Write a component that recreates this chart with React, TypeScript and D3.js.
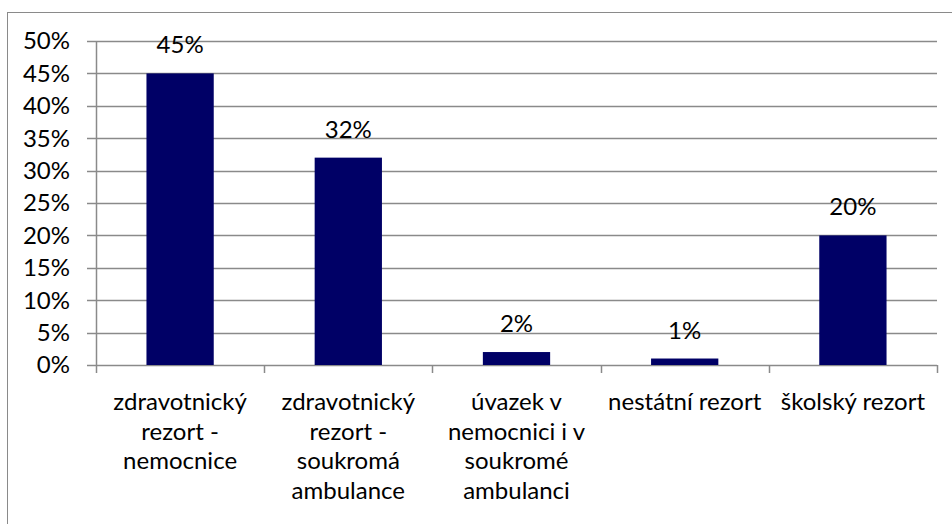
import React from "react";
import * as d3 from "d3";

const categories = [
  "zdravotnický rezort - nemocnice",
  "zdravotnický rezort - soukromá ambulance",
  "úvazek v nemocnici i v soukromé ambulanci",
  "nestátní rezort",
  "školský rezort",
];
const categoryLines = [
  ["zdravotnický", "rezort -", "nemocnice"],
  ["zdravotnický", "rezort -", "soukromá", "ambulance"],
  ["úvazek v", "nemocnici i v", "soukromé", "ambulanci"],
  ["nestátní rezort"],
  ["školský rezort"],
];
const values = [0.45, 0.32, 0.02, 0.01, 0.2];
const valueLabels = ["45%", "32%", "2%", "1%", "20%"];
const yTicks = [0, 0.05, 0.1, 0.15, 0.2, 0.25, 0.3, 0.35, 0.4, 0.45, 0.5];

const W = 952;
const H = 524;
const FONT = "Lato, Carlito, Calibri, sans-serif";
const FS = 24;

export default function App() {
  const x = d3
    .scaleBand<string>()
    .domain(categories)
    .range([96, 937])
    .paddingInner(0.6)
    .paddingOuter(0.3);
  const step = x.step();
  const bandStart = (c: string) => (x(c) as number) - step * 0.3;
  const y = d3.scaleLinear().domain([0, 0.5]).range([365, 41]);
  const fmt = d3.format(".0%");
  const grid = "#8a8a8a";

  return (
    <svg
      width={W}
      height={H}
      style={{ position: "absolute", left: 0, top: 0, background: "#fff" }}
      fontFamily={FONT}
    >
      <rect x={0} y={0} width={W} height={H} fill="#fff" />
      {/* outer chart border */}
      <rect x={7.5} y={12.5} width={W + 20} height={H + 20} fill="none" stroke={grid} strokeWidth={1} />
      {/* gridlines and y ticks */}
      {yTicks.map((t) => (
        <g key={t}>
          <line x1={87} x2={937} y1={Math.round(y(t)) + 0.5} y2={Math.round(y(t)) + 0.5} stroke={grid} strokeWidth={1.5} />
          <text
            x={70}
            y={y(t)}
            dy="0.35em"
            textAnchor="end"
            fontSize={FS}
            fill="#000"
          >
            {fmt(t)}
          </text>
        </g>
      ))}
      {/* y axis line */}
      <line x1={96.5} x2={96.5} y1={y(0.5)} y2={373} stroke={grid} strokeWidth={1.5} />
      {/* x category ticks */}
      {categories.map((c) => (
        <line
          key={"t" + c}
          x1={Math.round(bandStart(c) + step) + 0.5}
          x2={Math.round(bandStart(c) + step) + 0.5}
          y1={365}
          y2={373}
          stroke={grid}
          strokeWidth={1.5}
        />
      ))}
      {/* bars */}
      {categories.map((c, i) => (
        <rect
          key={"b" + c}
          x={x(c)}
          y={y(values[i])}
          width={x.bandwidth()}
          height={y(0) - y(values[i])}
          fill="#000066"
        />
      ))}
      {/* value labels */}
      {categories.map((c, i) => (
        <text
          key={"v" + c}
          x={(x(c) as number) + x.bandwidth() / 2}
          y={y(values[i]) - 20}
          textAnchor="middle"
          fontSize={FS}
          fill="#000"
        >
          {valueLabels[i]}
        </text>
      ))}
      {/* category labels */}
      {categories.map((c, i) => (
        <text
          key={"c" + c}
          x={(x(c) as number) + x.bandwidth() / 2}
          y={410}
          textAnchor="middle"
          fontSize={FS}
          fill="#000"
        >
          {categoryLines[i].map((ln, k) => (
            <tspan key={k} x={(x(c) as number) + x.bandwidth() / 2} dy={k === 0 ? 0 : 29.5}>
              {ln}
            </tspan>
          ))}
        </text>
      ))}
    </svg>
  );
}
